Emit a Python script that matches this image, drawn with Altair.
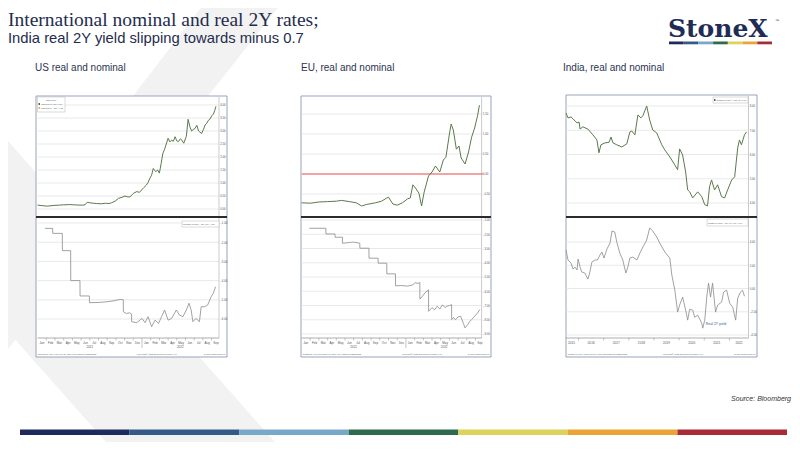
import altair as alt
import pandas as pd

M = 8  # page margin: chart coordinates = page coordinates - M

# ---------------- DATA ----------------
month_labels = ["Jan", "Feb", "Mar", "Apr", "May", "Jun", "Jul", "Aug", "Sep", "Oct", "Nov", "Dec",
                "Jan", "Feb", "Mar", "Apr", "May", "Jun", "Jul", "Aug", "Sep"]
month_pos = [0.5, 1.5, 2.5, 3.5, 4.5, 5.5, 6.5, 7.5, 8.5, 9.5, 10.5, 11.5,
             12.5, 13.5, 14.5, 15.5, 16.5, 17.5, 18.5, 19.5, 20.5]
month_bounds = [1, 2, 3, 4, 5, 6, 7, 8, 9, 10, 11, 13, 14, 15, 16, 17, 18, 19, 20]
us_year_labels = ["2021", "2022"]
us_year_pos = [6.0, 16.4]
india_year_labels = ["2015", "2016", "2017", "2018", "2019", "2020", "2021", "2022"]
india_year_pos = [2015.72, 2016.5, 2017.5, 2018.5, 2019.5, 2020.5, 2021.5, 2022.38]
india_year_bounds = [2016, 2017, 2018, 2019, 2020, 2021, 2022]

# time in months since 1 Jan 2021, value in %
us_nominal = [(0, 0.15), (0.5, 0.13), (1.0, 0.11), (1.43, 0.12), (2.0, 0.14), (2.5, 0.15), (3.0, 0.16),
              (3.7, 0.17), (4.2, 0.16), (4.7, 0.15), (5.2, 0.15), (5.45, 0.16), (5.7, 0.26), (6.0, 0.24),
              (6.4, 0.22), (6.8, 0.21), (7.3, 0.20), (7.8, 0.22), (8.2, 0.21), (8.5, 0.24), (8.9, 0.30),
              (9.3, 0.41), (9.7, 0.45), (10.05, 0.50), (10.3, 0.47), (10.6, 0.46), (11.0, 0.60), (11.4, 0.67),
              (11.7, 0.64), (11.95, 0.73), (12.2, 0.82), (12.5, 0.92), (12.7, 1.02), (12.9, 1.18), (13.1, 1.30),
              (13.3, 1.56), (13.45, 1.48), (13.6, 1.44), (13.8, 1.50), (14.0, 1.38), (14.2, 1.75), (14.4, 2.14),
              (14.6, 2.30), (14.75, 2.46), (15.0, 2.72), (15.2, 2.58), (15.4, 2.65), (15.6, 2.60), (15.8, 2.78),
              (16.0, 2.62), (16.2, 2.59), (16.4, 2.70), (16.55, 2.66), (16.8, 2.53), (17.1, 2.80), (17.3, 3.45),
              (17.5, 3.17), (17.7, 3.00), (17.9, 3.06), (18.1, 3.10), (18.3, 3.22), (18.5, 3.00), (18.65, 2.96),
              (18.85, 2.90), (19.05, 3.05), (19.25, 3.23), (19.45, 3.30), (19.6, 3.40), (19.8, 3.45),
              (20.0, 3.58), (20.2, 3.65), (20.35, 3.78), (20.5, 3.95)]

us_real = [(0.85, -1.28), (1.73, -1.28), (1.74, -1.54), (2.84, -1.54), (2.85, -2.44), (3.8, -2.44),
           (3.81, -4.0), (4.87, -4.0), (4.88, -4.8), (5.95, -4.8), (5.96, -5.15), (7.0, -5.14), (8.0, -5.10),
           (8.8, -5.05), (9.5, -4.98), (9.85, -5.0), (9.86, -5.62), (10.2, -5.71), (10.6, -5.68), (10.8, -5.75),
           (10.81, -6.14), (11.4, -6.19), (12.0, -5.97), (12.35, -6.19), (12.7, -5.88), (13.1, -6.40),
           (13.5, -6.06), (13.9, -6.23), (14.25, -5.88), (14.6, -5.53), (15.0, -6.06), (15.4, -5.97),
           (15.95, -5.53), (16.3, -5.79), (16.7, -5.88), (17.1, -5.53), (17.4, -5.18), (17.65, -5.53),
           (17.85, -6.14), (18.2, -5.97), (18.6, -6.14), (18.8, -5.36), (19.2, -5.36), (19.55, -5.27),
           (19.95, -4.84), (20.2, -4.66), (20.45, -4.32)]

eu_nominal = [(0, -0.72), (1, -0.73), (2, -0.70), (3, -0.69), (4, -0.68), (4.6, -0.66), (5.5, -0.69),
              (6.3, -0.72), (6.9, -0.80), (7.5, -0.76), (8.5, -0.72), (9.2, -0.68), (9.8, -0.60), (10.0, -0.58),
              (10.5, -0.75), (11.0, -0.78), (11.6, -0.72), (12.2, -0.62), (12.5, -0.60), (12.8, -0.27),
              (13.1, -0.35), (13.5, -0.48), (13.8, -0.80), (14.1, -0.45), (14.6, -0.05), (15.0, 0.05),
              (15.4, 0.20), (15.9, 0.05), (16.3, 0.35), (16.6, 0.42), (17.0, 1.00), (17.2, 1.25), (17.45, 1.10),
              (17.8, 0.62), (18.1, 0.70), (18.35, 0.40), (18.8, 0.25), (19.2, 0.55), (19.55, 0.92),
              (19.9, 1.15), (20.25, 1.47), (20.45, 1.72)]

eu_real = [(0.9, -1.58), (2.8, -1.58), (2.81, -1.98), (3.85, -1.98), (3.86, -2.21), (4.7, -2.21),
           (4.71, -2.63), (5.5, -2.58), (6.0, -2.55), (6.7, -2.63), (6.71, -2.98), (7.75, -2.98),
           (7.76, -3.68), (8.8, -3.68), (8.81, -4.03), (9.8, -4.03), (9.81, -4.78), (10.8, -4.78),
           (10.81, -5.62), (11.5, -5.60), (12.2, -5.64), (12.8, -5.55), (13.05, -5.40), (13.4, -5.45),
           (13.6, -5.38), (13.61, -6.55), (13.9, -6.35), (14.2, -6.10), (14.6, -5.90), (14.61, -7.41),
           (15.0, -7.15), (15.3, -7.30), (15.6, -7.05), (15.9, -7.25), (16.2, -6.95), (16.5, -7.15),
           (16.7, -7.06), (17.0, -7.00), (17.25, -6.94), (17.26, -7.99), (17.5, -7.85), (17.7, -8.0),
           (18.0, -7.80), (18.3, -7.76), (18.6, -8.25), (18.8, -8.57), (19.1, -8.35), (19.3, -8.15),
           (19.55, -7.99), (19.9, -7.76), (20.2, -7.55), (20.5, -7.29)]

# time in decimal years
india_nominal = [(2015.50, 7.71), (2015.58, 7.51), (2015.70, 7.55), (2015.78, 7.47), (2015.94, 7.30),
                 (2016.02, 7.34), (2016.06, 7.05), (2016.17, 7.14), (2016.37, 7.05), (2016.57, 6.81),
                 (2016.73, 6.60), (2016.81, 6.07), (2016.89, 6.40), (2017.05, 6.48), (2017.21, 6.50),
                 (2017.29, 6.72), (2017.37, 6.48), (2017.52, 6.40), (2017.72, 6.31), (2017.92, 6.44),
                 (2018.04, 6.93), (2018.12, 6.97), (2018.24, 6.81), (2018.36, 7.63), (2018.48, 7.51),
                 (2018.56, 7.60), (2018.71, 8.00), (2018.83, 7.42), (2018.95, 7.01), (2019.11, 6.89),
                 (2019.31, 6.40), (2019.43, 6.19), (2019.63, 5.90), (2019.83, 5.57), (2019.94, 5.37),
                 (2020.02, 6.23), (2020.14, 5.98), (2020.26, 5.28), (2020.34, 4.54), (2020.42, 4.46),
                 (2020.54, 4.21), (2020.74, 4.46), (2020.90, 4.26), (2021.02, 3.93), (2021.13, 3.88),
                 (2021.21, 4.67), (2021.29, 4.95), (2021.41, 4.54), (2021.53, 4.75), (2021.69, 4.26),
                 (2021.81, 4.21), (2021.93, 4.54), (2022.09, 4.95), (2022.21, 5.08), (2022.33, 6.27),
                 (2022.40, 6.60), (2022.48, 6.40), (2022.60, 6.81), (2022.68, 6.93)]

india_real = [(2015.50, 3.31), (2015.58, 2.45), (2015.70, 2.19), (2015.78, 1.67), (2015.86, 1.84),
              (2015.94, 1.59), (2015.98, 2.53), (2016.06, 1.84), (2016.13, 1.41), (2016.25, 1.33),
              (2016.37, 0.81), (2016.45, 1.41), (2016.53, 2.28), (2016.65, 2.45), (2016.75, 2.45),
              (2016.85, 2.88), (2016.93, 3.14), (2017.01, 2.62), (2017.13, 3.40), (2017.25, 3.91),
              (2017.33, 4.95), (2017.44, 4.86), (2017.52, 4.00), (2017.64, 3.05), (2017.76, 2.45),
              (2017.88, 1.33), (2017.96, 1.84), (2018.04, 2.62), (2018.16, 2.71), (2018.32, 2.45),
              (2018.44, 3.05), (2018.56, 3.57), (2018.71, 4.17), (2018.83, 5.21), (2018.95, 4.95),
              (2019.11, 4.43), (2019.23, 3.91), (2019.43, 3.14), (2019.63, 2.62), (2019.71, 1.16),
              (2019.83, -0.14), (2019.94, -2.03), (2020.02, -1.43), (2020.14, -0.74), (2020.26, -1.86),
              (2020.34, -2.72), (2020.42, -1.78), (2020.54, -1.86), (2020.62, -2.47), (2020.74, -2.29),
              (2020.90, -2.98), (2020.94, -3.41), (2021.02, -2.72), (2021.10, -0.74), (2021.17, 0.47),
              (2021.25, -0.74), (2021.33, 0.47), (2021.45, -2.03), (2021.53, -1.43), (2021.69, -1.17),
              (2021.77, -0.31), (2021.89, -0.14), (2022.01, -1.26), (2022.13, -1.60), (2022.25, -2.72),
              (2022.33, -0.83), (2022.44, -0.31), (2022.52, -0.14), (2022.60, -0.66)]

us_top_ticks = [0.0, 0.5, 1.0, 1.5, 2.0, 2.5, 3.0, 3.5, 4.0]
us_bot_ticks = [-1, -2, -3, -4, -5, -6]
eu_top_ticks = [-0.5, 0.0, 0.5, 1.0, 1.5]
eu_bot_ticks = [-1, -2, -3, -4, -5, -6, -7, -8, -9]
eu_zero = [0.0]
in_top_ticks = [4, 5, 6, 7, 8]
in_bot_ticks = [-4, -2, 0, 2, 4]

brand_colors = ["#1f2a5c", "#345b87", "#79a7c9", "#2d6a4f", "#dbd35b", "#eba436", "#a72c35"]

# decorative background chevron bands (page pixel coordinates)
band_a = [(0, 207, 284), (450, -140, -72)]
band_b = [(0, -286, -117), (450, 113, 282)]

NAVY = "#1f2d4e"
FONT = "Liberation Sans"

# ---------------- helpers ----------------
def P(v):
    return v - M

one = pd.DataFrame({"k": [0]})


def rect(x0, y0, x1, y1, **kw):
    return alt.Chart(one).mark_rect(**kw).encode(
        x=alt.value(P(x0)), x2=alt.value(P(x1)), y=alt.value(P(y0)), y2=alt.value(P(y1)))


def hline(x0, x1, y, color, w):
    return alt.Chart(one).mark_rule(color=color, strokeWidth=w).encode(
        x=alt.value(P(x0)), x2=alt.value(P(x1)), y=alt.value(P(y)))


def vline(x, y0, y1, color, w):
    return alt.Chart(one).mark_rule(color=color, strokeWidth=w).encode(
        x=alt.value(P(x)), y=alt.value(P(y0)), y2=alt.value(P(y1)))


def label(x, y, text, **kw):
    return alt.Chart(one).mark_text(text=text, **kw).encode(x=alt.value(P(x)), y=alt.value(P(y)))


def xscale(dom, a, b):
    return alt.Scale(domain=dom, range=[P(a), P(b)], nice=False, zero=False)


def yscale(dom, bottom, top):
    return alt.Scale(domain=dom, range=[P(bottom), P(top)], nice=False, zero=False)


def series_df(pairs):
    return pd.DataFrame({"t": [p[0] for p in pairs], "v": [p[1] for p in pairs]})


def panel(sp):
    L = []
    fx0, fy0, fx1, fy1 = sp["frame"]
    px0, px1 = sp["px"]
    xs = xscale(sp["xdom"], px0, px1)
    L.append(rect(fx0, fy0, fx1, fy1, fill="white", stroke="#8e98b5", strokeWidth=0.9))
    for part in ("top", "bot"):
        ys = yscale(sp[part + "_dom"], *sp[part + "_rng"])
        tk = pd.DataFrame({"g": sp[part + "_ticks"]})
        L.append(alt.Chart(tk).mark_rule(color="#e0e0e0", strokeWidth=0.7).encode(
            y=alt.Y("g:Q", scale=ys, axis=None), x=alt.value(P(px0)), x2=alt.value(P(px1))))
        L.append(alt.Chart(tk).mark_text(align="left", baseline="middle", fontSize=2.8, color="#555",
                                         font=FONT).encode(
            y=alt.Y("g:Q", scale=ys, axis=None), x=alt.value(P(px1 + 1.2)),
            text=alt.Text("g:Q", format=".2f")))
        if part == "top" and sp.get("zero"):
            zd = pd.DataFrame({"g": eu_zero})
            L.append(alt.Chart(zd).mark_rule(color="#f4a3a3", strokeWidth=2).encode(
                y=alt.Y("g:Q", scale=ys, axis=None), x=alt.value(P(px0)), x2=alt.value(P(px1 + 2))))
        color = "#5b7a4c" if part == "top" else "#8a8a8a"
        width = 1.0 if part == "top" else 0.8
        L.append(alt.Chart(series_df(sp[part + "_data"])).mark_line(
            color=color, strokeWidth=width).encode(
            x=alt.X("t:Q", scale=xs, axis=None), y=alt.Y("v:Q", scale=ys, axis=None)))
    # right axis line, divider, bottom axis
    L.append(vline(px1, fy0 + 1, 338, "#a8a8a8", 0.6))
    L.append(hline(fx0, fx1, 217, "#2b2b2b", 1.8))
    L.append(hline(px0, px1, 338, "#8a8a8a", 0.7))
    bd = pd.DataFrame({"b": sp["bounds"]})
    L.append(alt.Chart(bd).mark_rule(color="#8a8a8a", strokeWidth=0.5).encode(
        x=alt.X("b:Q", scale=xs, axis=None), y=alt.value(P(338)), y2=alt.value(P(340.5))))
    ld = pd.DataFrame({"p": sp["lab_pos"], "s": sp["lab_txt"]})
    L.append(alt.Chart(ld).mark_text(fontSize=sp["lab_fs"], color="#555", font=FONT, baseline="middle").encode(
        x=alt.X("p:Q", scale=xs, axis=None), y=alt.value(P(342.5)), text="s:N"))
    if sp.get("yr_pos"):
        yd = pd.DataFrame({"p": sp["yr_pos"], "s": sp["yr_txt"]})
        L.append(alt.Chart(yd).mark_text(fontSize=3, color="#555", font=FONT, baseline="middle").encode(
            x=alt.X("p:Q", scale=xs, axis=None), y=alt.value(P(346.5)), text="s:N"))
        L.append(alt.Chart(pd.DataFrame({"b": [12]})).mark_rule(color="#8a8a8a", strokeWidth=0.5).encode(
            x=alt.X("b:Q", scale=xs, axis=None), y=alt.value(P(338)), y2=alt.value(P(348))))
    # footer
    L.append(label(fx0 + 1.5, 353.5, sp["foot_left"], fontSize=2.2, color="#666", align="left", font=FONT))
    L.append(label(fx0 + sp["copy_dx"], 353.5, "Copyright\u00a9 2022 Bloomberg Finance L.P.", fontSize=2.2,
                   color="#666", align="center", font=FONT))
    L.append(label(fx1 - 1.5, 353.5, "16-Sep-2022 13:05:48", fontSize=2.2, color="#666", align="right",
                   font=FONT))
    return L


us = dict(frame=(36, 96, 227, 357), px=(37.6, 219), xdom=[0, 20.85],
          top_dom=[0, 4], top_rng=(209, 105), top_ticks=us_top_ticks, top_data=us_nominal,
          bot_dom=[-6, -1], bot_rng=(319, 223), bot_ticks=us_bot_ticks, bot_data=us_real,
          bounds=month_bounds, lab_pos=month_pos, lab_txt=month_labels, lab_fs=3,
          yr_pos=us_year_pos, yr_txt=us_year_labels,
          foot_left="USGG2YR Index  US Govt 2Y  Daily 01JAN2021-16SEP2022",
          copy_dx=121)
eu = dict(frame=(301, 96, 491, 357), px=(301.5, 481.6), xdom=[0, 20.7],
          top_dom=[-0.5, 1.5], top_rng=(194, 114), top_ticks=eu_top_ticks, top_data=eu_nominal, zero=True,
          bot_dom=[-9, -1], bot_rng=(334, 220), bot_ticks=eu_bot_ticks, bot_data=eu_real,
          bounds=month_bounds, lab_pos=month_pos, lab_txt=month_labels, lab_fs=3,
          yr_pos=us_year_pos, yr_txt=us_year_labels,
          foot_left="GTDEM2Y Govt  Germany 2Y  Daily 01JAN2021-16SEP2022",
          copy_dx=121)
ind = dict(frame=(566, 95, 757, 357), px=(566, 748.5), xdom=[2015.5, 2022.76],
           top_dom=[4, 8], top_rng=(203, 106), top_ticks=in_top_ticks, top_data=india_nominal,
           bot_dom=[-4, 4], bot_rng=(335, 242), bot_ticks=in_bot_ticks, bot_data=india_real,
           bounds=india_year_bounds, lab_pos=india_year_pos, lab_txt=india_year_labels, lab_fs=3.2,
           foot_left="GIND2YR Index  India Govt 2Y  Daily 30JUN2015-16SEP2022",
           copy_dx=117)

layers = []

# background chevron bands
for band in (band_a, band_b):
    bd = pd.DataFrame({"y": [b[0] for b in band], "xl": [b[1] for b in band], "xr": [b[2] for b in band]})
    layers.append(alt.Chart(bd).mark_area(orient="horizontal", color="#f2f2f2").encode(
        y=alt.Y("y:Q", scale=alt.Scale(domain=[0, 450], range=[-M, 450 - M], nice=False, zero=False), axis=None),
        x=alt.X("xl:Q", scale=alt.Scale(domain=[0, 800], range=[-M, 800 - M], nice=False, zero=False), axis=None),
        x2="xr:Q"))

# titles
layers.append(label(8, 26, "International nominal and real 2Y rates;", fontSize=19.5, font="Liberation Serif",
                    color=NAVY, align="left", baseline="alphabetic"))
layers.append(label(8, 42.5, "India real 2Y yield slipping towards minus 0.7", fontSize=14.8, font=FONT,
                    color=NAVY, align="left", baseline="alphabetic"))
for x, t in ((35, "US real and nominal"), (301, "EU, real and nominal"), (563, "India, real and nominal")):
    layers.append(label(x, 71, t, fontSize=10, font=FONT, color="#2a3550", align="left", baseline="alphabetic"))

# logo
layers.append(label(668, 37, "StoneX", fontSize=25, font="DejaVu Serif", fontWeight="bold",
                    color="#1f2d56", align="left", baseline="alphabetic"))
layers.append(label(775, 22, "\u2122", fontSize=4, font=FONT, color="#1f2d56", align="left",
                    baseline="alphabetic"))
seg = pd.DataFrame({"s": list(range(7)), "e": [i + 1 for i in range(7)], "c": brand_colors})
layers.append(alt.Chart(seg).mark_rect().encode(
    x=alt.X("s:Q", scale=xscale([0, 7], 669, 772), axis=None), x2="e:Q",
    y=alt.value(P(41.5)), y2=alt.value(P(44.3)), color=alt.Color("c:N", scale=None)))

# panels
for sp in (us, eu, ind):
    layers.extend(panel(sp))

# legend boxes inside panels
layers.append(rect(37.5, 97, 65, 112, fill="white", stroke="#b5b5b5", strokeWidth=0.5))
layers.append(label(51, 100, "Last Price", fontSize=2.4, color="#555", font=FONT, align="center",
                    baseline="middle"))
layers.append(rect(38.5, 103, 40, 105, fill="#3f6b3a"))
layers.append(label(41, 104, "USGG2YR Index  3.87", fontSize=2.2, color="#555", font=FONT, align="left",
                    baseline="middle"))
layers.append(rect(38.5, 107, 40, 109, fill="#f0b33c"))
layers.append(label(41, 108, "USGG2YR - CPI  -4.32", fontSize=2.2, color="#555", font=FONT,
                    align="left", baseline="middle"))
layers.append(rect(182, 221, 219, 227, fill="white", stroke="#b5b5b5", strokeWidth=0.5))
layers.append(label(183, 224, "USGG2YR Index - CPI YOY  -4.32", fontSize=2.1, color="#555",
                    font=FONT, align="left", baseline="middle"))
layers.append(rect(713, 97, 748, 103, fill="white", stroke="#b5b5b5", strokeWidth=0.5))
layers.append(rect(714, 99, 715.5, 101, fill="#3f6b3a"))
layers.append(label(716.5, 100, "GIND2YR Index - Last (L1)  6.93", fontSize=2.1, color="#555",
                    font=FONT, align="left", baseline="middle"))
layers.append(rect(707, 219, 748, 226, fill="white", stroke="#b5b5b5", strokeWidth=0.5))
layers.append(label(708, 222.5, "GIND2YR Index - CPI YoY (L1)  -0.66", fontSize=2.1, color="#555",
                    font=FONT, align="left", baseline="middle"))
layers.append(label(716, 324, "Real 2Y yield", fontSize=3.5, color="#3b5ba5", font=FONT, align="center",
                    baseline="middle"))

# source and bottom brand bar
layers.append(label(791, 401, "Source:  Bloomberg", fontSize=7, font=FONT, fontStyle="italic",
                    color="#333333", align="right", baseline="alphabetic"))
layers.append(alt.Chart(seg).mark_rect().encode(
    x=alt.X("s:Q", scale=xscale([0, 7], 20, 787), axis=None), x2="e:Q",
    y=alt.value(P(429.5)), y2=alt.value(P(435)), color=alt.Color("c:N", scale=None)))

chart = alt.layer(*layers).resolve_scale(x="independent", y="independent", color="independent").properties(
    width=784, height=434, padding=0, autosize=alt.AutoSizeParams(type="none"), background="white"
).configure_view(stroke=None)

chart.save("out.html", embed_options={"renderer": "svg", "actions": False})
